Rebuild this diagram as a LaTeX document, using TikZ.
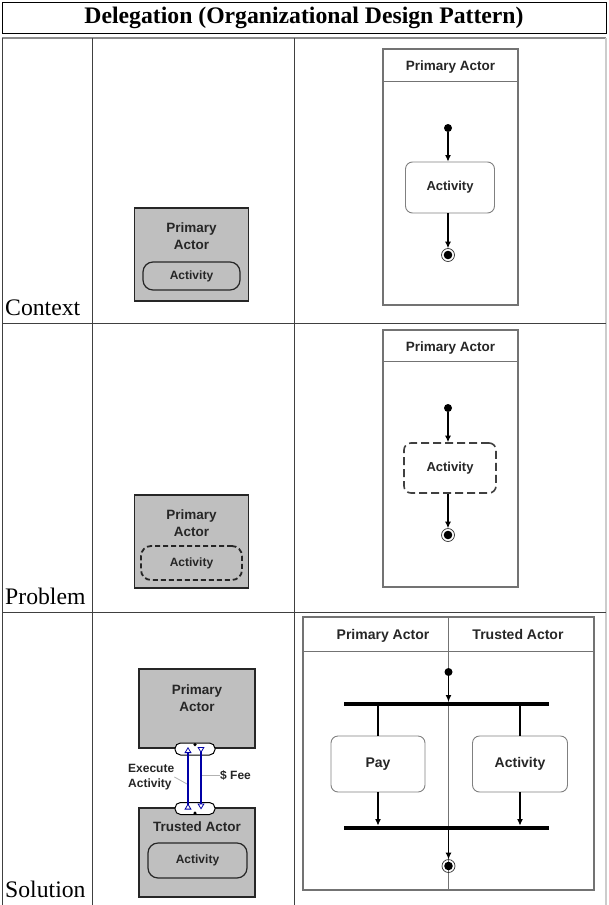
\documentclass[tikz,border=0pt]{standalone}
\usepackage{fontspec}
\setmainfont{Liberation Serif}
\setsansfont{Liberation Sans}
\usepackage{tikz}
\usetikzlibrary{calc}
\usetikzlibrary{positioning}
\usetikzlibrary{arrows.meta}
\tikzset{grid/.style={draw=black!75, line width=0.9pt}}
\tikzset{rowlbl/.style={anchor=base west, inner sep=0pt, font=\fontsize{23.7}{28}\selectfont}}
\tikzset{actorbox/.style={rectangle, draw=black!85, fill=black!25, line width=1.1pt}}
\tikzset{actortext/.style={align=center, inner sep=0pt, text=black!85, font=\sffamily\bfseries\fontsize{13.5}{17}\selectfont}}
\tikzset{smallact/.style={rectangle, rounded corners=10pt, draw=black!85, fill=black!25, line width=1.2pt, text=black!85, font=\sffamily\bfseries\fontsize{12}{14}\selectfont}}
\tikzset{port/.style={rectangle, rounded corners=5.5pt, draw=black, fill=white, line width=1pt, minimum width=40pt, minimum height=12pt, inner sep=0pt}}
\tikzset{portdot/.style={circle, fill=black, inner sep=0pt, minimum size=3.5pt}}
\tikzset{msg/.style={draw=blue!65!black, line width=1.8pt}}
\tikzset{msgtext/.style={inner sep=0pt, text=black!85, font=\sffamily\bfseries\fontsize{12}{14.5}\selectfont}}
\tikzset{leader/.style={draw=black!30, line width=0.8pt}}
\tikzset{lane/.style={rectangle, draw=black!55, line width=1.1pt}}
\tikzset{lanetitle/.style={text=black!85, text height=0.72em, text depth=0.22em, font=\sffamily\bfseries\fontsize{13.5}{16}\selectfont}}
\tikzset{actnode/.style={rectangle, rounded corners=7pt, draw=black!50, line width=0.9pt, text=black!85, font=\sffamily\bfseries\fontsize{13}{16}\selectfont}}
\tikzset{initnode/.style={circle, fill=black, inner sep=0pt, minimum size=8pt}}
\tikzset{finalnode/.style={circle, draw=black!80, line width=0.7pt, inner sep=0pt, minimum size=13pt,
  path picture={\fill[black] (path picture bounding box.center) circle (4.3pt);}}}
\tikzset{bar/.style={rectangle, fill=black, inner sep=0pt, minimum width=205pt, minimum height=4.5pt}}
\tikzset{flow/.style={-{Latex[length=6.5pt,width=6pt]}, line width=1.1pt}}
\begin{document}
\begin{tikzpicture}[x=1pt, y=-1pt]
		\useasboundingbox (0,0) rectangle (608,905);
		\node[draw=black, line width=0.8pt, minimum width=604pt, minimum height=31pt, font=\fontsize{23.7}{28}\selectfont\bfseries] (title) at (304,17.5) {Delegation (Organizational Design Pattern)};

		\draw[draw=black!45, line width=2.2pt] (2,38) -- (606,38);
		\draw[grid] (2,38) -- (2,905);
		\draw[grid] (92,38) -- (92,905);
		\draw[grid] (294,38) -- (294,905);
		\draw[draw=black!20, line width=1.5pt] (606,38) -- (606,905);
		\draw[grid] (2,323) -- (606,323);
		\draw[grid] (2,612) -- (606,612);

		\node[rowlbl] (ctxlbl) at (5,315) {Context};
		\node[rowlbl] (problbl) at (5,604) {Problem};
		\node[rowlbl] (sollbl) at (5,897) {Solution};

		\node[actorbox, minimum width=114pt, minimum height=93pt] (ctxbox) at (191.5,254.5) {};
		\node[actortext] (ctxboxlbl) at (191.5,236) {Primary\\Actor};
		\node[smallact, minimum width=97pt, minimum height=28pt] (ctxsmall) at (191.5,276) {Activity};

		\node[actorbox, minimum width=114pt, minimum height=93pt] (probbox) at (191.5,541.5) {};
		\node[actortext] (probboxlbl) at (191.5,523.5) {Primary\\Actor};
		\node[smallact, dashed, dash pattern=on 5pt off 3pt, line width=1.8pt, minimum width=101pt, minimum height=34pt] (probsmall) at (191.5,563) {Activity};

		\node[actorbox, minimum width=116pt, minimum height=79pt] (solprim) at (197,708.5) {};
		\node[actortext] (solprimlbl) at (197,698.5) {Primary\\Actor};
		\node[actorbox, minimum width=116pt, minimum height=89pt] (soltrust) at (197,852.5) {};
		\node[actortext] (soltrustlbl) at (197,827) {Trusted Actor};
		\node[smallact, minimum width=99pt, minimum height=35pt] (soltrustact) at (197.5,860.5) {Activity};
		\node[port] (topport) at (195,749) {};
		\node[port] (botport) at (195,808.5) {};
		\node[portdot] (topdot) at (195,744.5) {};
		\node[portdot] (botdot) at (195,813) {};
		\draw[msg, {Triangle[open,reversed,length=6pt,width=7pt,line width=0.8pt]}-{Triangle[open,length=6pt,width=7pt,line width=0.8pt]}] ($(botport.center)+(-7,1)$) -- ($(topport.center)+(-7,-2)$);
		\draw[msg, {Triangle[open,reversed,length=6pt,width=7pt,line width=0.8pt]}-{Triangle[open,length=6pt,width=7pt,line width=0.8pt]}] ($(topport.center)+(6,-2)$) -- ($(botport.center)+(6,1)$);
		\node[msgtext, anchor=west, align=left] (execlbl) at (128,777) {Execute\\Activity};
		\node[msgtext, anchor=west] (feelbl) at (220,775) {\$ Fee};
		\coordinate (execpt) at (187,784);
		\coordinate (feept) at (202,775);
		\draw[leader] (execlbl.east) -- (execpt);
		\draw[leader] (feept) -- (feelbl.west);

		\node[lane, minimum width=135pt, minimum height=256pt] (ctxlane) at (450.5,177) {};
		\draw[lane] ($(ctxlane.north west)+(0,33)$) -- ($(ctxlane.north east)+(0,33)$);
		\node[lanetitle] (ctxtitle) at (450.5,68) {Primary Actor};
		\node[initnode] (ctxinit) at (448,128) {};
		\node[actnode, minimum width=89pt, minimum height=51pt] (ctxact) at (450,187.5) {Activity};
		\node[finalnode] (ctxfinal) at (448,255) {};
		\draw[flow] (ctxinit) -- (ctxinit |- ctxact.north);
		\draw[flow] (ctxact.south -| ctxinit) -- (ctxfinal);

		\node[lane, minimum width=135pt, minimum height=257pt] (problane) at (450.5,458.5) {};
		\draw[lane] ($(problane.north west)+(0,32)$) -- ($(problane.north east)+(0,32)$);
		\node[lanetitle] (probtitle) at (450.5,349) {Primary Actor};
		\node[initnode] (probinit) at (448,408) {};
		\node[actnode, dashed, dash pattern=on 8pt off 4pt, draw=black!75, line width=1.6pt, minimum width=92pt, minimum height=50pt] (probact) at (450,468) {Activity};
		\node[finalnode] (probfinal) at (448,535) {};
		\draw[flow] (probinit) -- (probinit |- probact.north);
		\draw[flow] (probact.south -| probinit) -- (probfinal);

		\node[lane, minimum width=291pt, minimum height=273pt] (sollane) at (448.5,753.5) {};
		\draw[lane] ($(sollane.north west)+(0,35)$) -- ($(sollane.north east)+(0,35)$);
		\draw[lane] (sollane.north) -- (sollane.south);
		\node[lanetitle, font=\sffamily\bfseries\fontsize{14}{16}\selectfont] (soltitlea) at (383,637) {Primary Actor};
		\node[lanetitle, font=\sffamily\bfseries\fontsize{14}{16}\selectfont] (soltitleb) at (518,637) {Trusted Actor};
		\node[initnode] (solinit) at (448.5,672) {};
		\node[bar] (forkbar) at (446.5,704) {};
		\node[actnode, minimum width=94pt, minimum height=56pt, font=\sffamily\bfseries\fontsize{14}{16}\selectfont] (payact) at (378,764) {Pay};
		\node[actnode, minimum width=95pt, minimum height=56pt, font=\sffamily\bfseries\fontsize{14}{16}\selectfont] (delact) at (520,764) {Activity};
		\node[bar] (joinbar) at (446.5,828) {};
		\node[finalnode] (solfinal) at (448.5,866) {};
		\draw[flow] (solinit) -- (solinit |- forkbar.north);
		\draw[line width=1.1pt] (forkbar.south -| payact) -- (payact);
		\draw[line width=1.1pt] (forkbar.south -| delact) -- (delact);
		\draw[flow] (payact) -- (payact |- joinbar.north);
		\draw[flow] (delact) -- (delact |- joinbar.north);
		\draw[flow] (joinbar.south -| solfinal) -- (solfinal);
\end{tikzpicture}
\end{document}
